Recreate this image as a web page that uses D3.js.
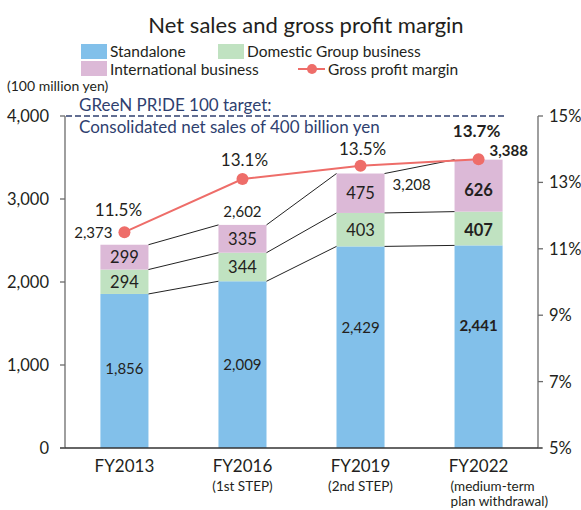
<!DOCTYPE html>
<html>
<head>
<meta charset="utf-8">
<script src="https://cdn.jsdelivr.net/npm/d3@7"></script>
<style>
  html, body { margin: 0; padding: 0; background: #fff; }
  svg { display: block; font-family: Lato, "Open Sans", sans-serif; }
</style>
</head>
<body>
<div id="chart"></div>
<script>
// ---- data ----
const categories = ["FY2013", "FY2016", "FY2019", "FY2022"];
const subLabels = [[], ["(1st STEP)"], ["(2nd STEP)"], ["(medium-term", "plan withdrawal)"]];
const standalone = [1856, 2009, 2429, 2441];
const domestic = [294, 344, 403, 407];
const international = [299, 335, 475, 626];
const consolidated = [2373, 2602, 3208, 3388];
const grossMargin = [11.5, 13.1, 13.5, 13.7];
const leftTicks = [0, 1000, 2000, 3000, 4000];
const rightTicks = [5, 7, 9, 11, 13, 15];
const targetValue = 4000;
const seriesNames = ["Standalone", "Domestic Group business", "International business", "Gross profit margin"];
const highlight = [false, false, false, true];

// ---- setup ----
const W = 581, H = 510;
const colors = { standalone: "#82c0ea", domestic: "#c0e2c1", international: "#dcb9d7", line: "#ee6d69", navy: "#2f3f6f", text: "#231f20", axis: "#6b6b6b" };
const svg = d3.select("#chart").append("svg").attr("width", W).attr("height", H);

const x = d3.scaleBand().domain(categories).range([65, 538]).paddingInner(0.593).paddingOuter(0.3);
const y = d3.scaleLinear().domain([0, 4000]).range([448, 116]);
const yR = d3.scaleLinear().domain([5, 15]).range([448, 116]);
const cxOf = i => x(categories[i]) + x.bandwidth() / 2;

// title
svg.append("text").attr("x", 306).attr("y", 33).attr("text-anchor", "middle")
  .attr("font-size", 22).attr("fill", colors.text).text("Net sales and gross profit margin");

// legend
const legSq = [
  { name: seriesNames[0], c: colors.standalone, x: 81, y: 44, ty: 56.5 },
  { name: seriesNames[1], c: colors.domestic, x: 218, y: 44, ty: 56.5 },
  { name: seriesNames[2], c: colors.international, x: 81, y: 61, ty: 75 }
];
legSq.forEach(d => {
  svg.append("rect").attr("x", d.x).attr("y", d.y).attr("width", 26).attr("height", 15).attr("fill", d.c);
  svg.append("text").attr("x", d.x + 29).attr("y", d.ty).attr("font-size", 15.5).attr("fill", colors.text).text(d.name);
});
svg.append("line").attr("x1", 298).attr("x2", 325).attr("y1", 69).attr("y2", 69).attr("stroke", colors.line).attr("stroke-width", 2);
svg.append("circle").attr("cx", 312).attr("cy", 69).attr("r", 5).attr("fill", colors.line);
svg.append("text").attr("x", 328).attr("y", 75).attr("font-size", 15.5).attr("fill", colors.text).text(seriesNames[3]);

// unit
svg.append("text").attr("x", 7).attr("y", 91).attr("font-size", 14).attr("fill", colors.text).text("(100 million yen)");

// stacks
const rows = categories.map((c, i) => ({ cat: c, standalone: standalone[i], domestic: domestic[i], international: international[i] }));
const keys = ["standalone", "domestic", "international"];
const stack = d3.stack().keys(keys)(rows);

const g = svg.append("g");
stack.forEach(layer => {
  g.selectAll(null).data(layer).enter().append("rect")
    .attr("x", d => x(d.data.cat))
    .attr("width", x.bandwidth())
    .attr("y", d => y(d[1]))
    .attr("height", d => y(d[0]) - y(d[1]))
    .attr("fill", colors[layer.key]);
});

// connector lines between bars
const connectors = svg.append("g").attr("stroke", "#222").attr("stroke-width", 1);
stack.forEach(layer => {
  for (let i = 0; i < categories.length - 1; i++) {
    connectors.append("line")
      .attr("x1", x(categories[i]) + x.bandwidth()).attr("y1", y(layer[i][1]))
      .attr("x2", x(categories[i + 1])).attr("y2", y(layer[i + 1][1]));
  }
});

// segment labels
const labelShift = { standalone: [-2, 0, -20, -21], domestic: [0, 0, 0, 2], international: [0, 0, 0, 4] };
stack.forEach(layer => {
  layer.forEach((d, i) => {
    const v = d[1] - d[0];
    const big = v >= 1000;
    svg.append("text")
      .attr("x", cxOf(i))
      .attr("y", y((d[0] + d[1]) / 2) + labelShift[layer.key][i])
      .attr("dy", "0.36em")
      .attr("text-anchor", "middle")
      .attr("font-size", big ? 15 : 16.5)
      .attr("font-weight", highlight[i] ? "bold" : "normal")
      .attr("fill", colors.text)
      .text(d3.format(",")(v));
  });
});

// axes
const axisG = svg.append("g").attr("stroke", colors.axis).attr("stroke-width", 1.3).attr("fill", "none");
axisG.append("line").attr("x1", 65).attr("x2", 65).attr("y1", y(4000)).attr("y2", y(0));
axisG.append("line").attr("x1", 538).attr("x2", 538).attr("y1", yR(15)).attr("y2", yR(5));
axisG.append("line").attr("x1", 60).attr("x2", 542).attr("y1", y(0)).attr("y2", y(0)).attr("stroke", "#333");

leftTicks.forEach(t => {
  axisG.append("line").attr("x1", 60).attr("x2", 65).attr("y1", y(t)).attr("y2", y(t));
  svg.append("text").attr("x", 49).attr("y", y(t)).attr("dy", "0.36em").attr("text-anchor", "end")
    .attr("font-size", 16.5).attr("fill", colors.text).text(d3.format(",")(t));
});
rightTicks.forEach(t => {
  axisG.append("line").attr("x1", 538).attr("x2", 543).attr("y1", yR(t)).attr("y2", yR(t));
  svg.append("text").attr("x", 549).attr("y", yR(t)).attr("dy", "0.36em")
    .attr("font-size", 16.5).attr("fill", colors.text).text(t + "%");
});

// category labels
categories.forEach((c, i) => {
  const cx = cxOf(i);
  svg.append("text").attr("x", cx).attr("y", 472).attr("text-anchor", "middle")
    .attr("font-size", 17).attr("fill", colors.text).text(c);
  const subs = subLabels[i];
  subs.forEach((s, j) => {
    const multi = subs.length > 1;
    svg.append("text").attr("x", multi ? cx - 28 : cx).attr("y", 491 + j * 15)
      .attr("text-anchor", multi ? "start" : "middle")
      .attr("font-size", 13.5).attr("fill", colors.text).text(s);
  });
});

// target line
svg.append("line").attr("x1", 66).attr("x2", 506).attr("y1", y(targetValue)).attr("y2", y(targetValue))
  .attr("stroke", colors.navy).attr("stroke-width", 1.5).attr("stroke-dasharray", "6,3");
svg.append("text").attr("x", 79).attr("y", 111).attr("font-size", 17).attr("fill", colors.navy).text("GReeN PR!DE 100 target:");
svg.append("text").attr("x", 79).attr("y", 133).attr("font-size", 17).attr("fill", colors.navy).text("Consolidated net sales of 400 billion yen");

// gross margin line
const line = d3.line().x((d, i) => cxOf(i)).y(d => yR(d));
svg.append("path").datum(grossMargin).attr("d", line).attr("fill", "none")
  .attr("stroke", colors.line).attr("stroke-width", 2);
svg.selectAll(null).data(grossMargin).enter().append("circle")
  .attr("cx", (d, i) => cxOf(i)).attr("cy", d => yR(d)).attr("r", 6)
  .attr("fill", colors.line);

// margin labels
const marginOffsets = [[-6, -16], [2, -13], [2, -11], [-2, -22]];
grossMargin.forEach((m, i) => {
  svg.append("text").attr("x", cxOf(i) + marginOffsets[i][0]).attr("y", yR(m) + marginOffsets[i][1])
    .attr("text-anchor", "middle").attr("font-size", 17)
    .attr("font-weight", highlight[i] ? "bold" : "normal")
    .attr("fill", colors.text).text(d3.format(".1f")(m) + "%");
});

// consolidated labels
const consPos = [
  i => ({ x: cxOf(i) - 12, y: yR(grossMargin[i]) + 6, anchor: "end" }),
  i => ({ x: cxOf(i), y: y(stack[2][i][1]) - 8, anchor: "middle" }),
  i => ({ x: x(categories[i]) + x.bandwidth() + 8, y: y(stack[2][i][1]) + 16, anchor: "start" }),
  i => ({ x: cxOf(i) + 11, y: yR(grossMargin[i]) - 3, anchor: "start" })
];
consolidated.forEach((v, i) => {
  const p = consPos[i](i);
  svg.append("text").attr("x", p.x).attr("y", p.y).attr("text-anchor", p.anchor)
    .attr("font-size", 15).attr("font-weight", highlight[i] ? "bold" : "normal")
    .attr("fill", colors.text).text(d3.format(",")(v));
});
</script>
</body>
</html>
